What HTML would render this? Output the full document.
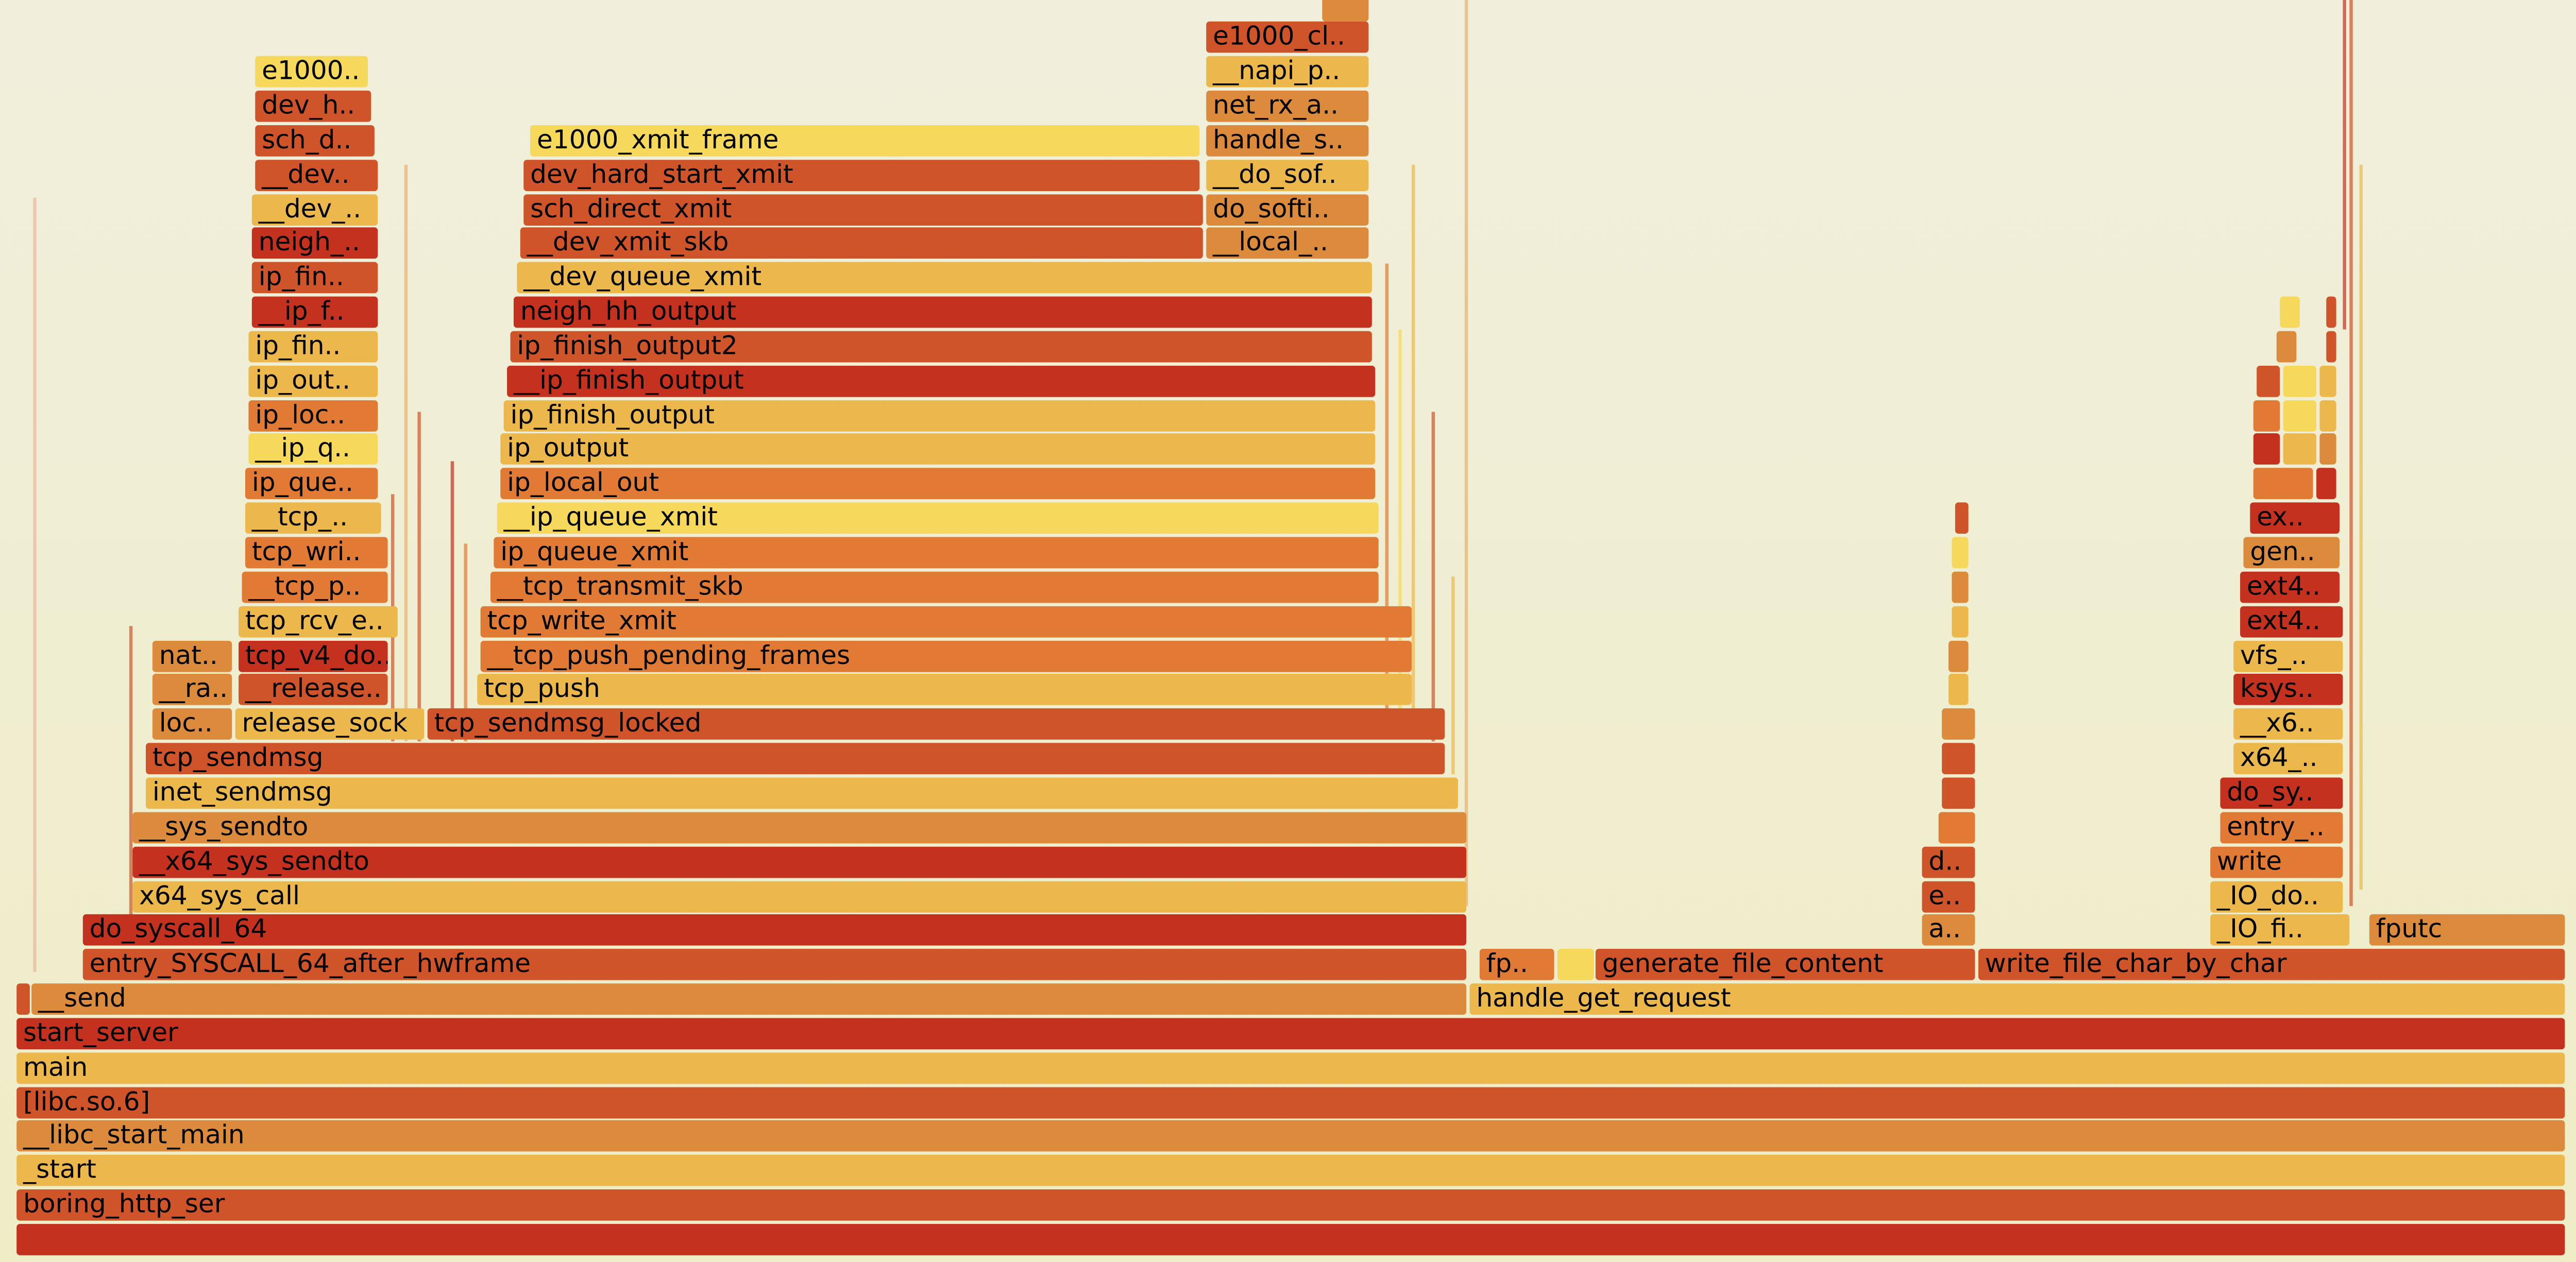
<!DOCTYPE html>
<html><head><meta charset="utf-8"><style>
html,body{margin:0;padding:0;}
body{width:5017px;height:2450px;overflow:hidden;background:linear-gradient(#f0efdc,#efedc6);}
#c{position:absolute;left:0;top:0;width:1560px;height:766px;transform:scale(3.216,3.198);transform-origin:0 0;}
.b{position:absolute;height:19px;border-radius:2px;font:15.6px "DejaVu Sans",sans-serif;line-height:19px;padding-left:4px;box-sizing:border-box;white-space:nowrap;overflow:hidden;color:#000;}
.s{position:absolute;width:1.5px;opacity:.7;}
.r{background:#c4311e}.o{background:#d0542a}.a{background:#dc8a3c}.y{background:#ecb84c}.l{background:#f6d85a}.m{background:#e07a35}
</style></head><body><div id="c">
<div class="s" style="left:236px;top:300px;height:150px;background:#d0542a"></div>
<div class="s" style="left:244px;top:100px;height:350px;background:#e8b070"></div>
<div class="s" style="left:252px;top:250px;height:200px;background:#d0542a"></div>
<div class="s" style="left:272px;top:280px;height:170px;background:#c4311e"></div>
<div class="s" style="left:280px;top:330px;height:120px;background:#e07a35"></div>
<div class="s" style="left:836px;top:160px;height:270px;background:#e07a35"></div>
<div class="s" style="left:844px;top:200px;height:230px;background:#f6d85a"></div>
<div class="s" style="left:852px;top:100px;height:330px;background:#ecb84c"></div>
<div class="s" style="left:864px;top:250px;height:200px;background:#d0542a"></div>
<div class="s" style="left:876px;top:350px;height:120px;background:#ecb84c"></div>
<div class="s" style="left:884px;top:0px;height:550px;background:#e8b070"></div>
<div class="s" style="left:20px;top:120px;height:470px;background:#e8b8a0"></div>
<div class="s" style="left:78px;top:380px;height:190px;background:#d0542a"></div>
<div class="s" style="left:1418px;top:0px;height:550px;background:#d0542a"></div>
<div class="s" style="left:1424px;top:100px;height:440px;background:#ecb84c"></div>
<div class="s" style="left:1414px;top:0px;height:200px;background:#c4311e"></div>
<div class="b r" style="left:10px;top:743px;width:1538px"></div>
<div class="b o" style="left:10px;top:722px;width:1538px">boring_http_ser</div>
<div class="b y" style="left:10px;top:701px;width:1538px">_start</div>
<div class="b a" style="left:10px;top:680px;width:1538px">__libc_start_main</div>
<div class="b o" style="left:10px;top:660px;width:1538px">[libc.so.6]</div>
<div class="b y" style="left:10px;top:639px;width:1538px">main</div>
<div class="b r" style="left:10px;top:618px;width:1538px">start_server</div>
<div class="b o" style="left:10px;top:597px;width:8px"></div>
<div class="b a" style="left:19px;top:597px;width:866px">__send</div>
<div class="b y" style="left:887px;top:597px;width:661px">handle_get_request</div>
<div class="b o" style="left:50px;top:576px;width:835px">entry_SYSCALL_64_after_hwframe</div>
<div class="b m" style="left:893px;top:576px;width:45px">fp..</div>
<div class="b l" style="left:940px;top:576px;width:22px"></div>
<div class="b o" style="left:963px;top:576px;width:229px">generate_file_content</div>
<div class="b o" style="left:1194px;top:576px;width:354px">write_file_char_by_char</div>
<div class="b r" style="left:50px;top:555px;width:835px">do_syscall_64</div>
<div class="b a" style="left:1160px;top:555px;width:32px">a..</div>
<div class="b y" style="left:1334px;top:555px;width:84px">_IO_fi..</div>
<div class="b a" style="left:1430px;top:555px;width:118px">fputc</div>
<div class="b y" style="left:80px;top:535px;width:805px">x64_sys_call</div>
<div class="b o" style="left:1160px;top:535px;width:32px">e..</div>
<div class="b y" style="left:1334px;top:535px;width:80px">_IO_do..</div>
<div class="b r" style="left:80px;top:514px;width:805px">__x64_sys_sendto</div>
<div class="b o" style="left:1160px;top:514px;width:32px">d..</div>
<div class="b m" style="left:1334px;top:514px;width:80px">write</div>
<div class="b a" style="left:80px;top:493px;width:805px">__sys_sendto</div>
<div class="b m" style="left:1170px;top:493px;width:22px"></div>
<div class="b m" style="left:1340px;top:493px;width:74px">entry_..</div>
<div class="b y" style="left:88px;top:472px;width:792px">inet_sendmsg</div>
<div class="b o" style="left:1172px;top:472px;width:20px"></div>
<div class="b r" style="left:1340px;top:472px;width:74px">do_sy..</div>
<div class="b o" style="left:88px;top:451px;width:784px">tcp_sendmsg</div>
<div class="b o" style="left:1172px;top:451px;width:20px"></div>
<div class="b y" style="left:1348px;top:451px;width:66px">x64_..</div>
<div class="b a" style="left:92px;top:430px;width:48px">loc..</div>
<div class="b y" style="left:142px;top:430px;width:114px">release_sock</div>
<div class="b o" style="left:258px;top:430px;width:614px">tcp_sendmsg_locked</div>
<div class="b a" style="left:1172px;top:430px;width:20px"></div>
<div class="b y" style="left:1348px;top:430px;width:66px">__x6..</div>
<div class="b a" style="left:92px;top:409px;width:48px">__ra..</div>
<div class="b o" style="left:144px;top:409px;width:90px">__release..</div>
<div class="b y" style="left:288px;top:409px;width:564px">tcp_push</div>
<div class="b y" style="left:1176px;top:409px;width:12px"></div>
<div class="b r" style="left:1348px;top:409px;width:66px">ksys..</div>
<div class="b a" style="left:92px;top:389px;width:48px">nat..</div>
<div class="b r" style="left:144px;top:389px;width:90px">tcp_v4_do..</div>
<div class="b m" style="left:290px;top:389px;width:562px">__tcp_push_pending_frames</div>
<div class="b a" style="left:1176px;top:389px;width:12px"></div>
<div class="b y" style="left:1348px;top:389px;width:66px">vfs_..</div>
<div class="b y" style="left:144px;top:368px;width:96px">tcp_rcv_e..</div>
<div class="b m" style="left:290px;top:368px;width:562px">tcp_write_xmit</div>
<div class="b y" style="left:1178px;top:368px;width:10px"></div>
<div class="b r" style="left:1352px;top:368px;width:62px">ext4..</div>
<div class="b m" style="left:146px;top:347px;width:88px">__tcp_p..</div>
<div class="b m" style="left:296px;top:347px;width:536px">__tcp_transmit_skb</div>
<div class="b a" style="left:1178px;top:347px;width:10px"></div>
<div class="b r" style="left:1352px;top:347px;width:60px">ext4..</div>
<div class="b m" style="left:148px;top:326px;width:86px">tcp_wri..</div>
<div class="b m" style="left:298px;top:326px;width:534px">ip_queue_xmit</div>
<div class="b l" style="left:1178px;top:326px;width:10px"></div>
<div class="b a" style="left:1354px;top:326px;width:58px">gen..</div>
<div class="b y" style="left:148px;top:305px;width:82px">__tcp_..</div>
<div class="b l" style="left:300px;top:305px;width:532px">__ip_queue_xmit</div>
<div class="b o" style="left:1180px;top:305px;width:8px"></div>
<div class="b r" style="left:1358px;top:305px;width:54px">ex..</div>
<div class="b m" style="left:148px;top:284px;width:80px">ip_que..</div>
<div class="b m" style="left:302px;top:284px;width:528px">ip_local_out</div>
<div class="b m" style="left:1360px;top:284px;width:36px"></div><div class="b r" style="left:1398px;top:284px;width:12px"></div>
<div class="b l" style="left:150px;top:263px;width:78px">__ip_q..</div>
<div class="b y" style="left:302px;top:263px;width:528px">ip_output</div>
<div class="b r" style="left:1360px;top:263px;width:16px"></div><div class="b y" style="left:1378px;top:263px;width:20px"></div><div class="b a" style="left:1400px;top:263px;width:10px"></div>
<div class="b m" style="left:150px;top:243px;width:78px">ip_loc..</div>
<div class="b y" style="left:304px;top:243px;width:526px">ip_finish_output</div>
<div class="b m" style="left:1360px;top:243px;width:16px"></div><div class="b l" style="left:1378px;top:243px;width:20px"></div><div class="b y" style="left:1400px;top:243px;width:10px"></div>
<div class="b y" style="left:150px;top:222px;width:78px">ip_out..</div>
<div class="b r" style="left:306px;top:222px;width:524px">__ip_finish_output</div>
<div class="b o" style="left:1362px;top:222px;width:14px"></div><div class="b l" style="left:1378px;top:222px;width:20px"></div><div class="b y" style="left:1400px;top:222px;width:10px"></div>
<div class="b y" style="left:150px;top:201px;width:78px">ip_fin..</div>
<div class="b o" style="left:308px;top:201px;width:520px">ip_finish_output2</div>
<div class="b a" style="left:1374px;top:201px;width:12px"></div><div class="b o" style="left:1404px;top:201px;width:6px"></div>
<div class="b r" style="left:152px;top:180px;width:76px">__ip_f..</div>
<div class="b r" style="left:310px;top:180px;width:518px">neigh_hh_output</div>
<div class="b l" style="left:1376px;top:180px;width:12px"></div><div class="b o" style="left:1404px;top:180px;width:6px"></div>
<div class="b o" style="left:152px;top:159px;width:76px">ip_fin..</div>
<div class="b y" style="left:312px;top:159px;width:516px">__dev_queue_xmit</div>
<div class="b r" style="left:152px;top:138px;width:76px">neigh_..</div>
<div class="b o" style="left:314px;top:138px;width:412px">__dev_xmit_skb</div>
<div class="b a" style="left:728px;top:138px;width:98px">__local_..</div>
<div class="b y" style="left:152px;top:118px;width:76px">__dev_..</div>
<div class="b o" style="left:316px;top:118px;width:410px">sch_direct_xmit</div>
<div class="b a" style="left:728px;top:118px;width:98px">do_softi..</div>
<div class="b o" style="left:154px;top:97px;width:74px">__dev..</div>
<div class="b o" style="left:316px;top:97px;width:408px">dev_hard_start_xmit</div>
<div class="b y" style="left:728px;top:97px;width:98px">__do_sof..</div>
<div class="b o" style="left:154px;top:76px;width:72px">sch_d..</div>
<div class="b l" style="left:320px;top:76px;width:404px">e1000_xmit_frame</div>
<div class="b a" style="left:728px;top:76px;width:98px">handle_s..</div>
<div class="b o" style="left:154px;top:55px;width:70px">dev_h..</div>
<div class="b a" style="left:728px;top:55px;width:98px">net_rx_a..</div>
<div class="b l" style="left:154px;top:34px;width:68px">e1000..</div>
<div class="b y" style="left:728px;top:34px;width:98px">__napi_p..</div>
<div class="b o" style="left:728px;top:13px;width:98px">e1000_cl..</div>
<div class="b a" style="left:798px;top:-6px;width:28px"></div>
</div></body></html>
